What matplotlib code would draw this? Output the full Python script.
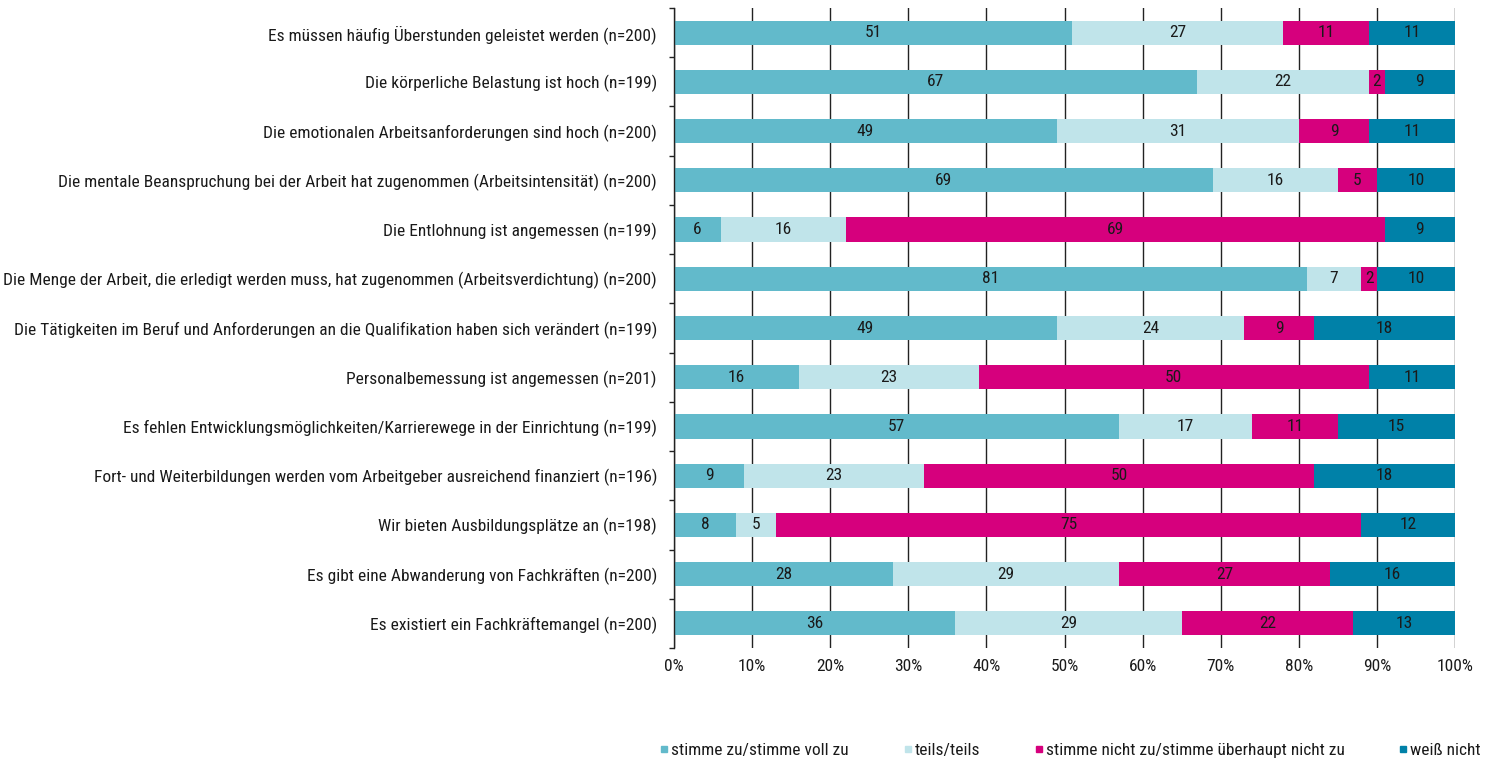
import matplotlib
matplotlib.use("Agg")
import matplotlib.pyplot as plt
import numpy as np
from matplotlib import font_manager as fm
from matplotlib.ticker import FixedLocator, PercentFormatter
from matplotlib.lines import Line2D

cands = ['Liberation Sans Narrow', 'Arial Narrow', 'Nimbus Sans Narrow',
         'Roboto Condensed', 'PT Sans Narrow', 'Archivo Narrow', 'Pragati Narrow',
         'Liberation Sans']
avail = {f.name for f in fm.fontManager.ttflist}
fam = next((c for c in cands if c in avail), 'DejaVu Sans')
plt.rcParams['font.family'] = [fam, 'DejaVu Sans']

categories = [
    "Es müssen häufig Überstunden geleistet werden (n=200)",
    "Die körperliche Belastung ist hoch (n=199)",
    "Die emotionalen Arbeitsanforderungen sind hoch (n=200)",
    "Die mentale Beanspruchung bei der Arbeit hat zugenommen (Arbeitsintensität) (n=200)",
    "Die Entlohnung ist angemessen (n=199)",
    "Die Menge der Arbeit, die erledigt werden muss, hat zugenommen (Arbeitsverdichtung) (n=200)",
    "Die Tätigkeiten im Beruf und Anforderungen an die Qualifikation haben sich verändert (n=199)",
    "Personalbemessung ist angemessen (n=201)",
    "Es fehlen Entwicklungsmöglichkeiten/Karrierewege in der Einrichtung (n=199)",
    "Fort- und Weiterbildungen werden vom Arbeitgeber ausreichend finanziert (n=196)",
    "Wir bieten Ausbildungsplätze an (n=198)",
    "Es gibt eine Abwanderung von Fachkräften (n=200)",
    "Es existiert ein Fachkräftemangel (n=200)",
]

series_names = [
    "stimme zu/stimme voll zu",
    "teils/teils",
    "stimme nicht zu/stimme überhaupt nicht zu",
    "weiß nicht",
]

zustimmung = [51, 67, 49, 69, 6, 81, 49, 16, 57, 9, 8, 28, 36]
teils = [27, 22, 31, 16, 16, 7, 24, 23, 17, 23, 5, 29, 29]
ablehnung = [11, 2, 9, 5, 69, 2, 9, 50, 11, 50, 75, 27, 22]
weiss_nicht = [11, 9, 11, 10, 9, 10, 18, 11, 15, 18, 12, 16, 13]

colors = ["#62BACB", "#C0E4EA", "#D6007D", "#0081A8"]
txtcol = '#1a1a1a'

DPI = 100
PX = 72 / DPI  # points per pixel

fig = plt.figure(figsize=(14.87, 7.60), dpi=DPI)
ax = fig.add_axes([674/1487, 1-648/760, (1455-674)/1487, (648-8)/760])

# fit font size so that the longest category label is as wide as in the reference
renderer = fig.canvas.get_renderer()
probe = fig.text(0, 0, max(categories, key=len), fontsize=12)
w = probe.get_window_extent(renderer).width
probe.remove()
fs = 12 * 642 / w

series = [zustimmung, teils, ablehnung, weiss_nicht]
n = len(categories)
y = np.arange(n)
left = np.zeros(n)
for vals, col in zip(series, colors):
    vals = np.array(vals, dtype=float)
    ax.barh(y, vals, left=left, height=0.49, color=col, zorder=2)
    for yi, l, v in zip(y, left, vals):
        ax.text(l + v/2, yi, f"{int(v)}", ha='center', va='center',
                fontsize=fs, color=txtcol, zorder=3)
    left += vals

ax.set_xlim(0, 100)
ax.set_ylim(n - 0.5, -0.5)
ax.set_xticks(np.arange(0, 101, 10))
ax.xaxis.set_major_formatter(PercentFormatter(decimals=0))
ax.tick_params(axis='x', length=0, pad=11*PX, labelsize=fs, labelcolor=txtcol)
ax.set_yticks(y)
ax.set_yticklabels(categories, fontsize=fs, color=txtcol)
ax.tick_params(axis='y', which='major', length=0, pad=17*PX)
ax.yaxis.set_minor_locator(FixedLocator(np.arange(-0.5, n, 1.0)))
ax.tick_params(axis='y', which='minor', length=5*PX, width=1, color='#222222')
ax.grid(axis='x', color='#222222', linewidth=1, zorder=0)
ax.set_axisbelow(True)
for s in ['top', 'right', 'bottom']:
    ax.spines[s].set_visible(False)
ax.spines['left'].set_color('#222222')
ax.spines['left'].set_linewidth(1)

handles = [Line2D([], [], marker='s', linestyle='none', markersize=5,
                  markerfacecolor=c, markeredgecolor=c) for c in colors]

def make_legend(cs):
    return fig.legend(handles, series_names, loc='center left',
                      bbox_to_anchor=(660/1487, 1-750/760),
                      ncol=4, frameon=False, fontsize=fs, handletextpad=0.15,
                      columnspacing=cs, handlelength=0.5, borderpad=0,
                      borderaxespad=0, labelcolor=txtcol)

cs = 3.0
leg = make_legend(cs)
lw = leg.get_window_extent(renderer).width
fs_px = fs * DPI / 72
cs = max(0.5, cs + (1481 - 660 - lw) / 3 / fs_px)
leg.remove()
leg = make_legend(cs)

fig.savefig("out.png", dpi=DPI)
